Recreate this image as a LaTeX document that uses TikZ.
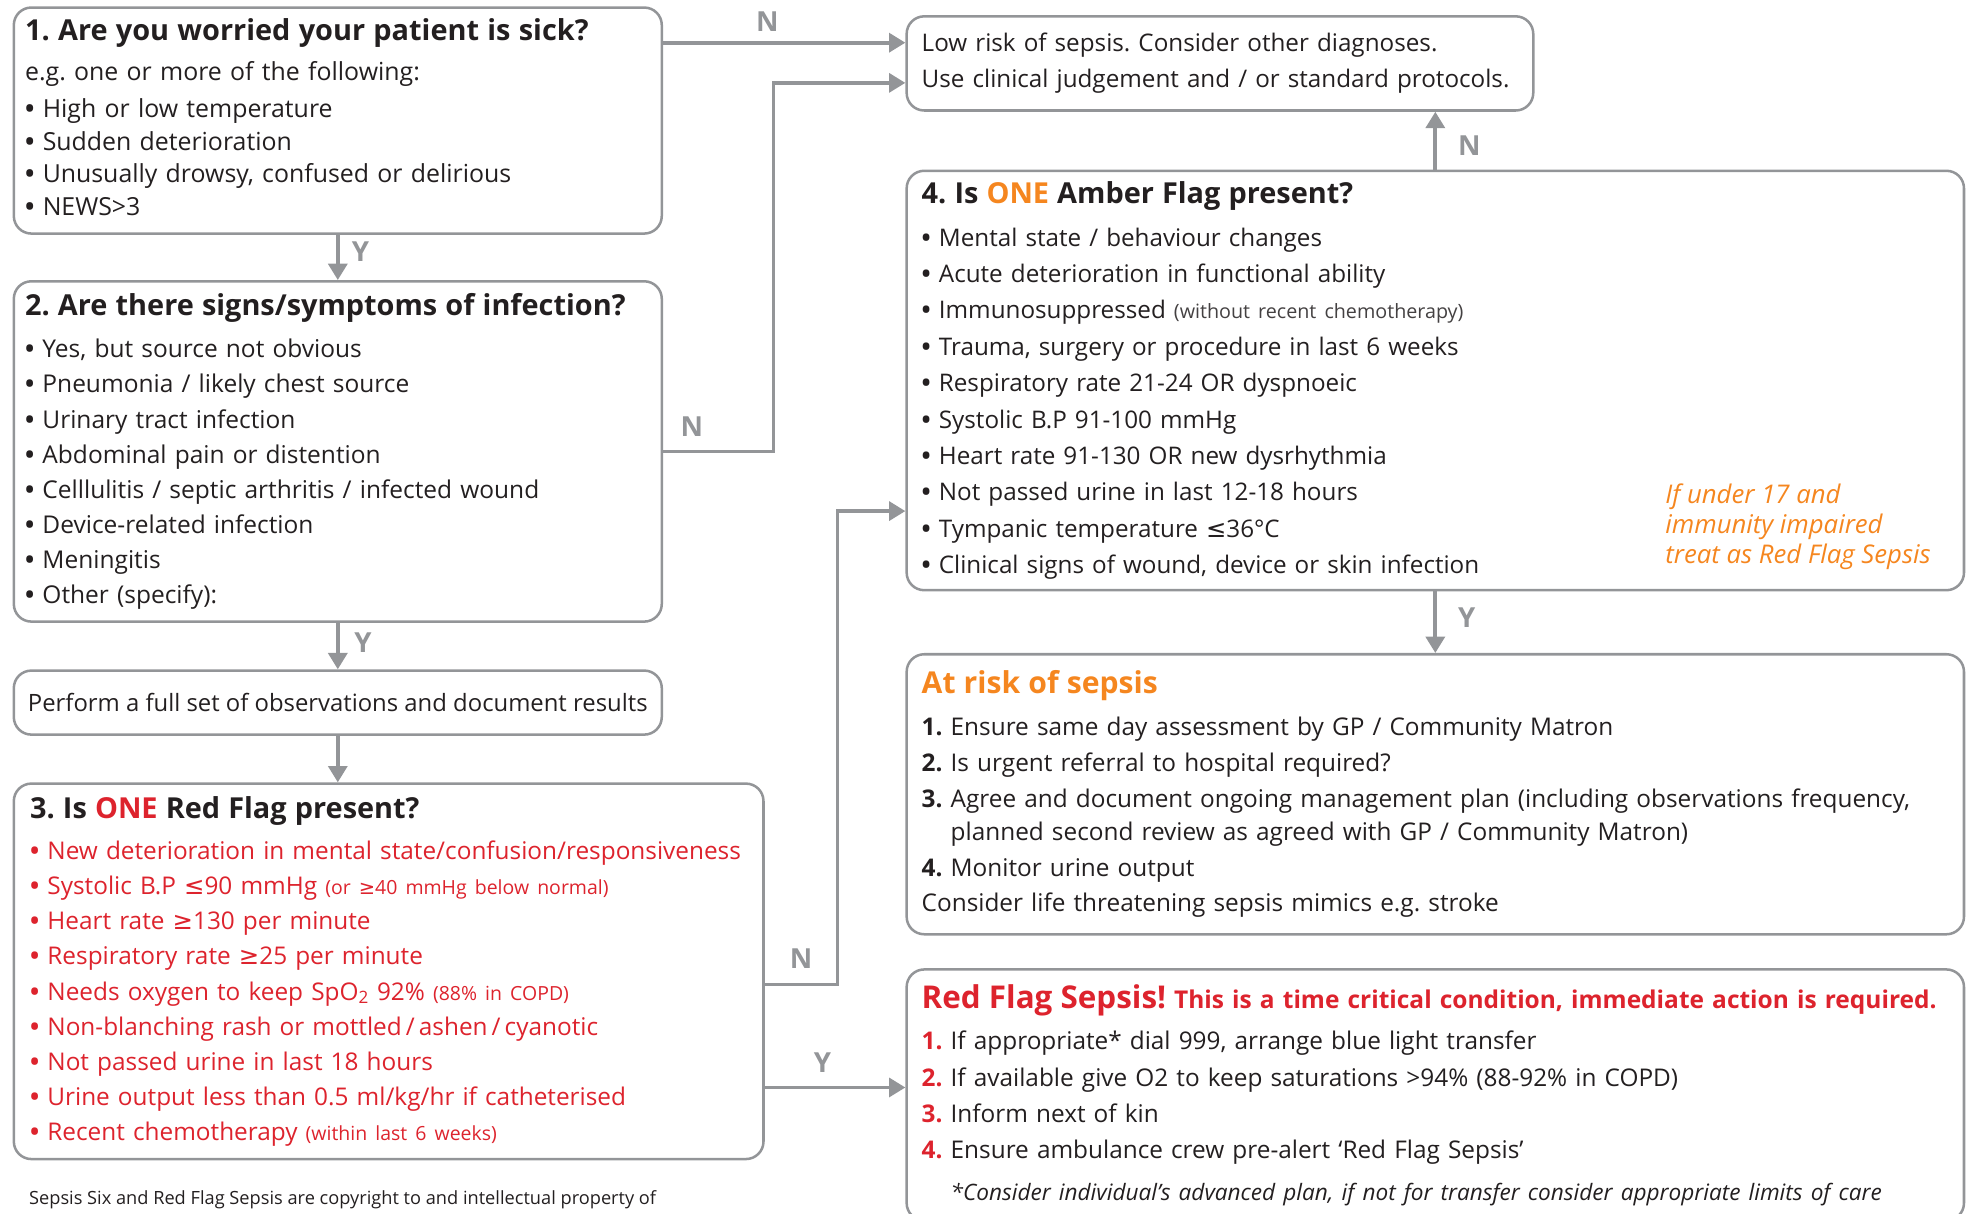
\documentclass[tikz,border=0pt]{standalone}
\usepackage{fontspec}
\setmainfont{Open Sans}
\newfontfamily\symf{DejaVu Sans}
\usetikzlibrary{arrows.meta}
\definecolor{lg}{RGB}{147,149,152}
\definecolor{tx}{RGB}{35,31,32}
\definecolor{rd}{RGB}{221,35,45}
\definecolor{og}{RGB}{245,134,31}
\newcommand{\bodyf}{\fontsize{19.4}{28}\selectfont}
\newcommand{\hdf}{\fontsize{23}{23}\selectfont\bfseries}
\newcommand{\smf}{\fontsize{15.5}{15.5}\selectfont}
\newcommand{\lte}{{\symf ≤}}
\newcommand{\gte}{{\symf ≥}}
\newcommand{\bl}{{\bfseries •}}
\frenchspacing
\begin{document}
\begin{tikzpicture}[x=1pt,y=-1pt,
  box/.style={draw=lg, line width=2pt, rounded corners=14pt, anchor=north west,
    align=left, inner ysep=0pt, text=tx, font=\bodyf},
  arr/.style={draw=lg, line width=3pt, -{Triangle[length=13pt,width=15pt]}},
  yn/.style={text=lg, font=\fontsize{22}{22}\selectfont\bfseries, inner sep=0pt}]
\useasboundingbox (0,0) rectangle (1568,966);

% ---------- left column ----------
\node[box, inner xsep=9pt, text width=498pt, minimum width=516pt, minimum height=180pt,
  font=\fontsize{19.8}{26}\selectfont] (b1) at (10,5)
{{\hdf 1. Are you worried your patient is sick?}\\[6pt]
e.g. one or more of the following:\\[3pt]
\bl{} High or low temperature\\
\bl{} Sudden deterioration\\
\bl{} Unusually drowsy, confused or delirious\\
\bl{} NEWS>3\rule[-5.5pt]{0pt}{1pt}};

\node[box, inner xsep=9pt, text width=498pt, minimum width=516pt, minimum height=271pt,
  font=\fontsize{19.5}{28}\selectfont] (b2) at (10,223)
{{\hdf 2. Are there signs/symptoms of infection?}\\[6pt]
\bl{} Yes, but source not obvious\\
\bl{} Pneumonia / likely chest source\\
\bl{} Urinary tract infection\\
\bl{} Abdominal pain or distention\\
\bl{} Celllulitis / septic arthritis / infected wound\\
\bl{} Device-related infection\\
\bl{} Meningitis\\
\bl{} Other (specify):};

\node[box, inner xsep=9pt, minimum width=516pt, minimum height=51pt,
  font=\fontsize{19}{28}\selectfont] (b3) at (10,533)
{Perform a full set of observations and document results};

\node[box, inner xsep=13pt, text width=571pt, minimum width=597pt, minimum height=299pt, text=rd] (b4) at (10,623)
{{\hdf\color{tx}3. Is \textcolor{rd}{ONE} Red Flag present?}\\[5pt]
\bl{} New deterioration in mental state/confusion/responsiveness\\
\bl{} Systolic B.P \lte90 mmHg {\smf (or \gte40 mmHg below normal)}\\
\bl{} Heart rate \gte130 per minute\\
\bl{} Respiratory rate \gte25 per minute\\
\bl{} Needs oxygen to keep SpO\textsubscript{2} 92\% {\smf (88\% in COPD)}\\
\bl{} Non-blanching rash or mottled\,/\,ashen\,/\,cyanotic\\
\bl{} Not passed urine in last 18 hours\\
\bl{} Urine output less than 0.5 ml/kg/hr if catheterised\\
\bl{} Recent chemotherapy {\smf (within last 6 weeks)}};

\node[anchor=west, inner sep=0pt, text=tx, font=\fontsize{14.5}{14.5}\selectfont] (copy) at (23,955)
{Sepsis Six and Red Flag Sepsis are copyright to and intellectual property of};

% ---------- right column ----------
\node[box, inner xsep=12pt, text width=475pt, minimum width=499pt, minimum height=75pt,
  font=\fontsize{19.3}{29}\selectfont] (lr) at (721,12)
{Low risk of sepsis. Consider other diagnoses.\\
Use clinical judgement and / or standard protocols.};

\node[box, inner xsep=12pt, text width=818pt, minimum width=842pt, minimum height=334pt,
  font=\fontsize{19.3}{29}\selectfont] (am) at (721,135)
{{\hdf 4. Is \textcolor{og}{ONE} Amber Flag present?}\\[5pt]
\bl{} Mental state / behaviour changes\\
\bl{} Acute deterioration in functional ability\\
\bl{} Immunosuppressed {\fontsize{15.7}{15.7}\selectfont\color{tx!85} (without recent chemotherapy)}\\
\bl{} Trauma, surgery or procedure in last 6 weeks\\
\bl{} Respiratory rate 21-24 OR dyspnoeic\\
\bl{} Systolic B.P 91-100 mmHg\\
\bl{} Heart rate 91-130 OR new dysrhythmia\\
\bl{} Not passed urine in last 12-18 hours\\
\bl{} Tympanic temperature \lte36°C\\
\bl{} Clinical signs of wound, device or skin infection};

\node[anchor=north west, inner sep=0pt, align=left, text=og,
  font=\fontsize{20.5}{24}\selectfont\itshape] (amnote) at (1326,385)
{If under 17 and\\ immunity impaired\\ treat as Red Flag Sepsis};

\node[box, inner xsep=12pt, text width=818pt, minimum width=842pt, minimum height=223pt,
  font=\fontsize{19.4}{28.5}\selectfont] (ar) at (721,520)
{{\bfseries\fontsize{24}{24}\selectfont\color{og}At risk of sepsis}\\[5pt]
\textbf{1.} Ensure same day assessment by GP / Community Matron\\
\textbf{2.} Is urgent referral to hospital required?\\
\textbf{3.} Agree and document ongoing management plan (including observations frequency,\\[-2.5pt]
\hphantom{\textbf{3.} }planned second review as agreed with GP / Community Matron)\\
\textbf{4.} Monitor urine output\\
Consider life threatening sepsis mimics e.g. stroke};

\node[box, inner xsep=12pt, text width=818pt, minimum width=842pt, minimum height=200pt,
  font=\fontsize{19.4}{29}\selectfont] (rf) at (721,771)
{{\color{rd}\bfseries{\fontsize{25}{25}\selectfont Red Flag Sepsis!} \fontsize{19.5}{19.5}\selectfont This is a time critical condition, immediate action is required.}\\[4pt]
\textcolor{rd}{\textbf{1.}} If appropriate* dial 999, arrange blue light transfer\\
\textcolor{rd}{\textbf{2.}} If available give O2 to keep saturations >94\% (88-92\% in COPD)\\
\textcolor{rd}{\textbf{3.}} Inform next of kin\\
\textcolor{rd}{\textbf{4.}} Ensure ambulance crew pre-alert ‘Red Flag Sepsis’\\[4pt]
\hphantom{\textbf{1.} }{\fontsize{18}{18}\selectfont\itshape *Consider individual’s advanced plan, if not for transfer consider appropriate limits of care}};

% ---------- connectors ----------
\draw[arr] (b1) -- (b2);
\draw[arr] (b2) -- (b3);
\draw[arr] (b3.south) -- (b3.south |- b4.north);
\draw[arr] ([yshift=-29pt]b1.north east) -- ([yshift=-22pt]lr.north west);
\draw[arr] (b2.east) -- ++(88,0) |- ([yshift=-54pt]lr.north west);
\draw[arr] (am.north) -- (am.north |- lr.south);
\draw[arr] (am.south) -- (ar.north);
\draw[arr] ([yshift=140pt]b4.south east) -- ++(58,0) |- ([yshift=64pt]am.south west);
\draw[arr] ([yshift=58pt]b4.south east) -- ([yshift=58pt]b4.south east -| rf.west);

% ---------- Y / N labels ----------
\node[yn] (n1) at (611,17) {N};
\node[yn] (n2) at (551,340) {N};
\node[yn] (y1) at (287,200) {Y};
\node[yn] (y2) at (289,512) {Y};
\node[yn] (n3) at (1170,116) {N};
\node[yn] (y3) at (1168,492) {Y};
\node[yn] (n4) at (638,763) {N};
\node[yn] (y4) at (655,846) {Y};
\end{tikzpicture}
\end{document}
